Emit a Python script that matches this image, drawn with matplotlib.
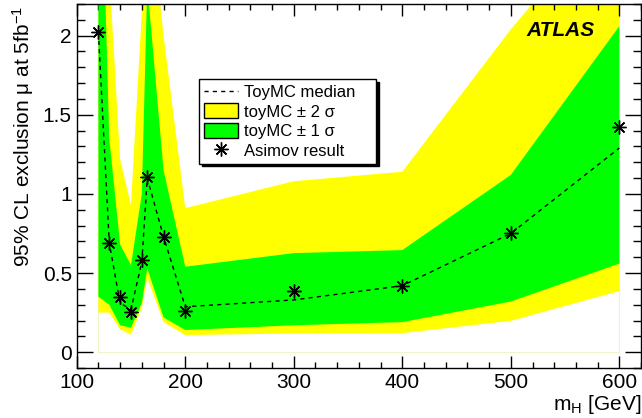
import numpy as np
import matplotlib
matplotlib.use("Agg")
import matplotlib.pyplot as plt
from matplotlib.lines import Line2D
from matplotlib.patches import Patch

plt.rcParams["font.family"] = ["Liberation Sans", "DejaVu Sans"]
plt.rcParams["mathtext.fontset"] = "custom"
plt.rcParams["mathtext.rm"] = "Liberation Sans"
plt.rcParams["mathtext.it"] = "Liberation Sans:italic"

# Higgs mass points [GeV]
mass = [120, 130, 140, 150, 160, 165, 180, 200, 300, 400, 500, 600]

# expected exclusion from toy MC
median = [2.02, 0.69, 0.31, 0.27, 0.57, 1.10, 0.73, 0.287, 0.33, 0.42, 0.75, 1.29]
up_1s = [3.8, 1.35, 0.68, 0.55, 1.00, 2.32, 1.15, 0.54, 0.626, 0.645, 1.12, 2.06]
lo_1s = [0.35, 0.30, 0.17, 0.155, 0.31, 0.53, 0.22, 0.14, 0.17, 0.19, 0.32, 0.56]
up_2s = [5.0, 2.40, 1.22, 0.93, 2.15, 3.00, 2.00, 0.91, 1.08, 1.14, 2.04, 2.85]
lo_2s = [0.25, 0.25, 0.145, 0.11, 0.28, 0.47, 0.19, 0.108, 0.118, 0.12, 0.198, 0.386]

# Asimov data set result
asimov = [2.02, 0.69, 0.35, 0.255, 0.585, 1.107, 0.73, 0.258, 0.385, 0.42, 0.75, 1.424]

fig = plt.figure(figsize=(6.42, 4.18), dpi=100)
ax = fig.add_axes([0.1195, 0.1196, 0.879, 0.8708])

# histogram frame (faint)
ax.plot([120, 120, 600, 600], [2.2, 0, 0, 2.2], color="#eaf7c8", lw=0.8, zorder=0)

ax.fill_between(mass, lo_2s, up_2s, color="#ffff00", lw=0, zorder=1)
ax.fill_between(mass, lo_1s, up_1s, color="#00ff00", lw=0, zorder=2)
ax.plot(mass, median, color="black", lw=1.0, ls=(0, (3, 3)), zorder=3)
ax.plot(mass, asimov, ls="none", marker=(8, 2, 0), ms=10, mew=1.0,
        color="black", zorder=4)

ax.set_xlim(100, 620)
ax.set_ylim(-0.1, 2.2)
ax.set_xticks([100, 200, 300, 400, 500, 600])
ax.set_xticks(np.arange(100, 621, 20), minor=True)
ax.set_yticks([0, 0.5, 1, 1.5, 2])
ax.set_yticklabels(["0", "0.5", "1", "1.5", "2"])
ax.set_yticks(np.arange(-0.1, 2.21, 0.1), minor=True)
ax.tick_params(which="both", direction="in", top=True, right=True,
               labelsize=15, width=1.0)
ax.tick_params(axis="x", which="major", length=8.6, pad=3.5)
ax.tick_params(axis="x", which="minor", length=4.3)
ax.tick_params(axis="y", which="major", length=11.5, pad=3.5)
ax.tick_params(axis="y", which="minor", length=5.8)
for s in ax.spines.values():
    s.set_linewidth(1.0)

fig.text(641 / 642, 1 - 410 / 418, r"m$_\mathrm{H}$ [GeV]", fontsize=15,
         ha="right", va="baseline")
fig.text(23 / 642, 1 - 6 / 418, r"95% CL exclusion μ at 5fb$^{-1}$",
         fontsize=15, rotation=90, ha="center", va="top")
ax.text(546, 2.03, "ATLAS", fontsize=15, fontweight="bold", style="italic",
        ha="center", va="center")

handles = [
    Line2D([], [], color="black", lw=1.0, ls=(0, (3, 3))),
    Patch(facecolor="#ffff00", edgecolor="black", lw=1.0),
    Patch(facecolor="#00ff00", edgecolor="black", lw=1.0),
    Line2D([], [], ls="none", marker=(8, 2, 0), ms=10, mew=1.0, color="black"),
]
labels = ["ToyMC median", "toyMC ± 2 σ", "toyMC ± 1 σ", "Asimov result"]
leg = ax.legend(handles, labels, loc="upper left",
                bbox_to_anchor=(0.217, 0.563, 0.314, 0.231), mode="expand",
                borderaxespad=0, fontsize=12, frameon=True, fancybox=False,
                shadow={"color": "black", "alpha": 1.0}, handlelength=2.0,
                handleheight=1.0, handletextpad=0.4, labelspacing=0.2,
                borderpad=0.3)
leg.get_frame().set_edgecolor("black")
leg.get_frame().set_linewidth(1.0)
leg.set_zorder(10)

fig.savefig("out.png", dpi=100)
